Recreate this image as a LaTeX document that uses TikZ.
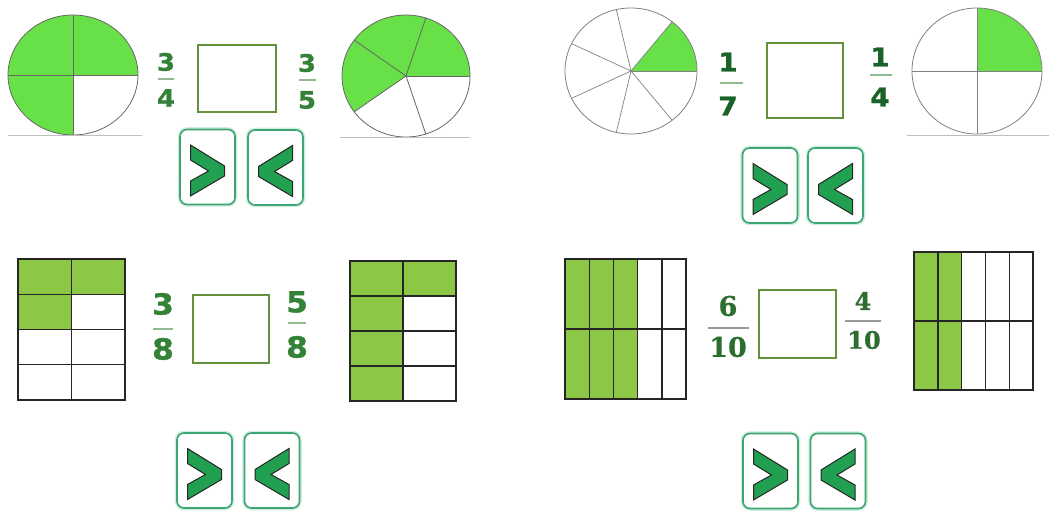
\documentclass[tikz,border=0pt]{standalone}
\usepackage{fontspec}
\newfontfamily\fracsans{DejaVu Sans}[BoldFeatures={FakeStretch=1.08, FakeBold=1.2}]
\newfontfamily\fracserif{DejaVu Serif}[BoldFeatures={FakeBold=0.8}]
\definecolor{piegreen}{RGB}{104,224,72}
\definecolor{gridgreen}{RGB}{140,200,70}
\definecolor{fracgreen}{RGB}{52,130,56}
\definecolor{fracdark}{RGB}{26,98,40}
\definecolor{boxgreen}{RGB}{100,145,60}
\definecolor{btngreen}{RGB}{60,165,115}
\definecolor{btnglow}{RGB}{205,238,220}
\definecolor{chevgreen}{RGB}{32,160,80}

\begin{document}
\begin{tikzpicture}[x=1pt, y=1pt,
  pieline/.style={draw=black!60, line width=0.8pt},
  baseln/.style={draw=black!25, line width=0.8pt},
  cellline/.style={draw=black!85, line width=1.4pt},
  ansbox/.style={draw=boxgreen, line width=1.3pt, fill=white, inner sep=0pt},
  fnum/.style={font=\fracsans\bfseries\fontsize{#1}{#1}\selectfont, text=fracgreen, inner sep=0pt},
  fnumd/.style={font=\fracsans\bfseries\fontsize{#1}{#1}\selectfont, text=fracdark, inner sep=0pt},
  fnums/.style={font=\fracserif\bfseries\fontsize{#1}{#1}\selectfont, text=fracgreen!85!black, inner sep=0pt},
  fbar/.style={draw=fracgreen!55, line width=1.2pt},
  btn/.style={draw=btngreen, line width=1.6pt, rounded corners=7pt, fill=white,
    minimum width=55pt, minimum height=75pt, inner sep=0pt,
    preaction={draw=btnglow, line width=4.5pt}},
  chev/.style={fill=chevgreen, draw=black!85, line width=1pt, line join=miter},
  gtsign/.pic={\filldraw[chev] (-17,22) -- (17,1) -- (17,-9) -- (-17,-29) -- (-17,-14) -- (1,-4) -- (-17,7) -- cycle;},
]
\useasboundingbox (0,0) rectangle (1049,-518);

% --- Panel 1: 3/4 and 3/5 ---
\coordinate (pa) at (73,-75);
\fill[piegreen] (pa) -- ++(0:65 and 60) arc[start angle=0, end angle=270, x radius=65, y radius=60] -- cycle;
\foreach \a in {0,90,180,270} \draw[pieline] (pa) -- ++(\a:65 and 60);
\draw[pieline] (pa) ellipse [x radius=65, y radius=60];
\draw[baseln] (8,-135) -- (142,-135);

\node[fnum=24pt] (n34) at (166,-62) {3};
\node[fnum=24pt] (d34) at (166,-98) {4};
\draw[fbar] (158,-79) -- (174,-79);

\node[ansbox, minimum width=78pt, minimum height=67pt] (ans1) at (237,-78.5) {};

\node[fnum=24pt] (n35) at (307,-63) {3};
\node[fnum=24pt] (d35) at (307,-100) {5};
\draw[fbar] (299,-80) -- (316,-80);

\coordinate (pb) at (406,-76);
\fill[piegreen] (pb) -- ++(0:64 and 61) arc[start angle=0, end angle=216, x radius=64, y radius=61] -- cycle;
\foreach \a in {0,72,...,288} \draw[pieline] (pb) -- ++(\a:64 and 61);
\draw[pieline] (pb) ellipse [x radius=64, y radius=61];
\draw[baseln] (340,-137) -- (470,-137);

\node[btn] (gt1) at (207.5,-167) {};
\pic at (gt1) {gtsign};
\node[btn] (lt1) at (275.5,-167.5) {};
\pic[xscale=-1] at (lt1) {gtsign};

% --- Panel 2: 1/7 and 1/4 ---
\coordinate (pc) at (631,-71);
\fill[piegreen] (pc) -- ++(0:66 and 63) arc[start angle=0, end angle=51.43, x radius=66, y radius=63] -- cycle;
\foreach \k in {0,...,6} \draw[pieline, draw=black!50, line width=0.7pt] (pc) -- ++({\k*360/7}:66 and 63);
\draw[pieline, draw=black!50] (pc) ellipse [x radius=66, y radius=63];

\node[fnumd=26pt] (n17) at (728,-62) {1};
\node[fnumd=26pt] (d17) at (728,-106) {7};
\draw[fbar] (720,-83) -- (743,-83);

\node[ansbox, minimum width=76pt, minimum height=75pt] (ans2) at (805,-80.5) {};

\node[fnumd=26pt] (n14) at (880,-57) {1};
\node[fnumd=26pt] (d14) at (880,-97) {4};
\draw[fbar] (870,-75) -- (892,-75);

\coordinate (pd) at (977,-71);
\fill[piegreen] (pd) -- ++(0:65 and 63) arc[start angle=0, end angle=90, x radius=65, y radius=63] -- cycle;
\foreach \a in {0,90,180,270} \draw[pieline, draw=black!50, line width=0.7pt] (pd) -- ++(\a:65 and 63);
\draw[pieline, draw=black!50] (pd) ellipse [x radius=65, y radius=63];
\draw[baseln] (907,-135) -- (1049,-135);

\node[btn] (gt2) at (770,-185.5) {};
\pic at (gt2) {gtsign};
\node[btn] (lt2) at (835.5,-185.5) {};
\pic[xscale=-1] at (lt2) {gtsign};

% --- Panel 3: 3/8 and 5/8 ---
\begin{scope}[shift={(18,-400)}, x=53.5pt, y=35.25pt]
  \foreach \c/\r in {0/3,1/3,0/2} \fill[gridgreen] (\c,\r) rectangle ++(1,1);
  \draw[cellline] (1,0) -- (1,4);
  \foreach \j in {1,2,3} \draw[cellline] (0,\j) -- (2,\j);
  \draw[cellline] (0,0) rectangle (2,4);
\end{scope}

\node[fnum=29pt] (n38) at (163,-304) {3};
\node[fnum=29pt] (d38) at (163,-349) {8};
\draw[fbar] (153,-329) -- (173,-329);

\node[ansbox, minimum width=76pt, minimum height=68pt] (ans3) at (231,-329) {};

\node[fnum=29pt] (n58) at (297,-302) {5};
\node[fnum=29pt] (d58) at (297,-347) {8};
\draw[fbar] (288,-323) -- (306,-323);

\begin{scope}[shift={(350,-401)}, x=53pt, y=35pt]
  \fill[gridgreen] (0,3) rectangle (2,4);
  \fill[gridgreen] (0,0) rectangle (1,4);
  \draw[cellline] (1,0) -- (1,4);
  \foreach \j in {1,2,3} \draw[cellline] (0,\j) -- (2,\j);
  \draw[cellline] (0,0) rectangle (2,4);
\end{scope}

\node[btn] (gt3) at (204.5,-470.5) {};
\pic at (gt3) {gtsign};
\node[btn] (lt3) at (272,-470.5) {};
\pic[xscale=-1] at (lt3) {gtsign};

% --- Panel 4: 6/10 and 4/10 ---
\begin{scope}[shift={(565,-399)}, x=24.2pt, y=70pt]
  \fill[gridgreen] (0,0) rectangle (3,2);
  \foreach \i in {1,...,4} \draw[cellline] (\i,0) -- (\i,2);
  \draw[cellline] (0,1) -- (5,1);
  \draw[cellline] (0,0) rectangle (5,2);
\end{scope}

\node[fnums=27pt] (n610) at (728,-306) {6};
\node[fnums=27pt] (d610) at (728,-347) {10};
\draw[fbar, draw=black!40] (708,-328) -- (749,-328);

\node[ansbox, minimum width=77pt, minimum height=68pt] (ans4) at (797.5,-324) {};

\node[fnums=24pt] (n410) at (863,-301) {4};
\node[fnums=24pt] (d410) at (864,-340) {10};
\draw[fbar, draw=black!40] (845,-321) -- (881,-321);

\begin{scope}[shift={(914,-390)}, x=23.8pt, y=69pt]
  \fill[gridgreen] (0,0) rectangle (2,2);
  \foreach \i in {1,...,4} \draw[cellline] (\i,0) -- (\i,2);
  \draw[cellline] (0,1) -- (5,1);
  \draw[cellline] (0,0) rectangle (5,2);
\end{scope}

\node[btn] (gt4) at (770.5,-471) {};
\pic at (gt4) {gtsign};
\node[btn] (lt4) at (838,-471) {};
\pic[xscale=-1] at (lt4) {gtsign};

\end{tikzpicture}
\end{document}
